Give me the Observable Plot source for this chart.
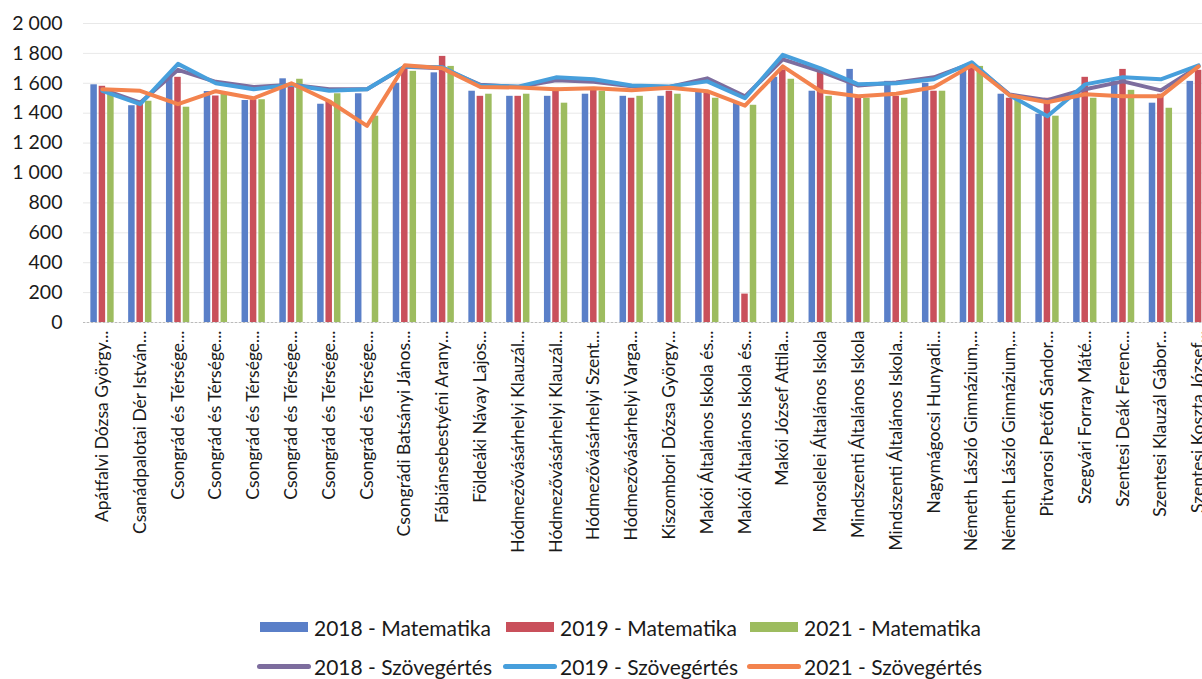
<!DOCTYPE html>
<html>
<head>
<meta charset="utf-8">
<script src="https://cdn.jsdelivr.net/npm/d3@7"></script>
<script src="https://cdn.jsdelivr.net/npm/@observablehq/plot@0.6"></script>
<style>
html, body { margin: 0; padding: 0; background: #fff; overflow: hidden; width: 1202px; height: 679px; }
#wrap { position: relative; width: 1202px; height: 679px; overflow: hidden; font-family: Lato, "Open Sans", sans-serif; }
#chart svg { max-width: none !important; display: block; overflow: hidden; }
.legend { position: absolute; left: 0; top: 600px; width: 1202px; height: 79px; }
.item { position: absolute; display: flex; align-items: center; font-size: 21px; color: #1a1a1a; white-space: nowrap; height: 26px; }
.sw { display: inline-block; margin-right: 6px; }
.sw.bar { width: 48px; height: 10px; }
.sw.ln { width: 54px; height: 5px; border-radius: 3px; margin-right: 3px; }
</style>
</head>
<body>
<div id="wrap">
  <div id="chart"></div>
  <div class="legend" id="legend"></div>
</div>
<script>
const categories = [
  "Apátfalvi Dózsa György...",
  "Csanádpalotai Dér István...",
  "Csongrád és Térsége...",
  "Csongrád és Térsége...",
  "Csongrád és Térsége...",
  "Csongrád és Térsége...",
  "Csongrád és Térsége...",
  "Csongrád és Térsége...",
  "Csongrádi Batsányi János...",
  "Fábiánsebestyéni Arany...",
  "Földeáki Návay Lajos...",
  "Hódmezővásárhelyi Klauzál...",
  "Hódmezővásárhelyi Klauzál...",
  "Hódmezővásárhelyi Szent...",
  "Hódmezővásárhelyi Varga...",
  "Kiszombori Dózsa György...",
  "Makói Általános Iskola és...",
  "Makói Általános Iskola és...",
  "Makói József Attila...",
  "Maroslelei Általános Iskola",
  "Mindszenti Általános Iskola",
  "Mindszenti Általános Iskola...",
  "Nagymágocsi Hunyadi...",
  "Németh László Gimnázium,...",
  "Németh László Gimnázium,...",
  "Pitvarosi Petőfi Sándor...",
  "Szegvári Forray Máté...",
  "Szentesi Deák Ferenc...",
  "Szentesi Klauzál Gábor...",
  "Szentesi Koszta József..."
];

const seriesNames = ["2018 - Matematika", "2019 - Matematika", "2021 - Matematika",
                     "2018 - Szövegértés", "2019 - Szövegértés", "2021 - Szövegértés"];

const mat2018 = [1590,1450,1650,1545,1485,1630,1460,1530,1600,1670,1547,1513,1513,1527,1513,1513,1553,1467,1640,1547,1693,1613,1600,1700,1527,1393,1547,1613,1467,1613];
const mat2019 = [1580,1480,1640,1515,1490,1575,1480,null,1710,1780,1513,1513,1567,1553,1500,1547,1547,190,1690,1680,1513,1513,1547,1727,1500,1500,1640,1693,1527,1687];
const mat2021 = [1540,1480,1440,1530,1490,1627,1530,1380,1680,1713,1527,1527,1467,1547,1513,1527,1500,1453,1627,1513,1500,1500,1547,1713,1487,1380,1500,1553,1433,1650];

const szov2018 = [1560,1470,1690,1610,1575,1590,1560,1560,1710,1700,1590,1575,1620,1610,1580,1575,1633,1513,1760,1680,1585,1605,1640,1733,1525,1487,1560,1613,1553,1713];
const szov2019 = [1550,1460,1730,1600,1560,1590,1550,1560,1713,1707,1585,1578,1640,1627,1585,1578,1613,1500,1790,1700,1593,1600,1627,1740,1520,1380,1593,1640,1627,1720];
const szov2021 = [1560,1550,1460,1547,1500,1600,1480,1315,1720,1700,1575,1572,1560,1567,1553,1570,1547,1450,1713,1547,1513,1530,1573,1720,1520,1473,1527,1513,1513,1713];

const yTicks = [0,200,400,600,800,1000,1200,1400,1600,1800,2000];

const colors = ["#5a7fc8", "#c9505b", "#9dbc5f", "#7d6d9e", "#479fdc", "#f3834e"];

const idx = categories.map((_, i) => i);
const rows = (arr, s) => idx.filter(i => arr[i] != null).map(i => ({i, series: s, value: arr[i]}));

const W = 1217, ML = 83;
const bw = (W - ML) / categories.length;
const barW = 6.5;
const inset = (bw - barW) / 2;
const offsets = [-8.3, 0, 8.5];

const fmt = d3.formatLocale({decimal: ",", thousands: " ", grouping: [3], currency: ["", ""]}).format(",d");

const matData = [mat2018, mat2019, mat2021];
const szovData = [szov2018, szov2019, szov2021];

const marks = [
  Plot.gridY(yTicks, {stroke: "#d9d9d9", strokeOpacity: 0.6}),
  Plot.ruleY([0], {stroke: "#bbb", strokeDasharray: "2,2"}),
  ...matData.map((arr, k) => Plot.barY(rows(arr, seriesNames[k]), {
    x: "i", y: "value", fill: colors[k], dx: offsets[k], insetLeft: inset, insetRight: inset
  })),
  ...szovData.map((arr, k) => Plot.line(rows(arr, seriesNames[k + 3]), {
    x: "i", y: "value", stroke: colors[k + 3], strokeWidth: 4, strokeLinejoin: "round", strokeLinecap: "round"
  })),
  Plot.axisY(yTicks, {tickSize: 0, tickPadding: 21, tickFormat: fmt, fontSize: 19.5, fill: "#1a1a1a", label: null}),
  Plot.axisX(idx, {tickSize: 0, tickPadding: 8, tickRotate: -90, tickFormat: i => categories[i], fontSize: 17.5, fill: "#1a1a1a", label: null})
];

const chart = Plot.plot({
  width: W,
  height: 600,
  marginTop: 23,
  marginBottom: 278,
  marginLeft: ML,
  marginRight: 0,
  style: {fontFamily: "Lato, 'Open Sans', sans-serif", background: "#fff"},
  x: {type: "band", domain: idx, padding: 0, round: false, axis: null},
  y: {domain: [0, 2000], axis: null},
  marks
});
document.getElementById("chart").appendChild(chart);

// legend
const legendPos = [
  {x: 260, y: 14, type: "bar"}, {x: 506, y: 14, type: "bar"}, {x: 750, y: 14, type: "bar"},
  {x: 257, y: 53, type: "ln"}, {x: 503, y: 53, type: "ln"}, {x: 747, y: 53, type: "ln"}
];
const legend = document.getElementById("legend");
seriesNames.forEach((name, k) => {
  const p = legendPos[k];
  const item = document.createElement("div");
  item.className = "item";
  item.style.left = p.x + "px";
  item.style.top = p.y + "px";
  const sw = document.createElement("span");
  sw.className = "sw " + p.type;
  sw.style.background = colors[k];
  const t = document.createElement("span");
  t.textContent = name;
  item.appendChild(sw);
  item.appendChild(t);
  legend.appendChild(item);
});
</script>
</body>
</html>
